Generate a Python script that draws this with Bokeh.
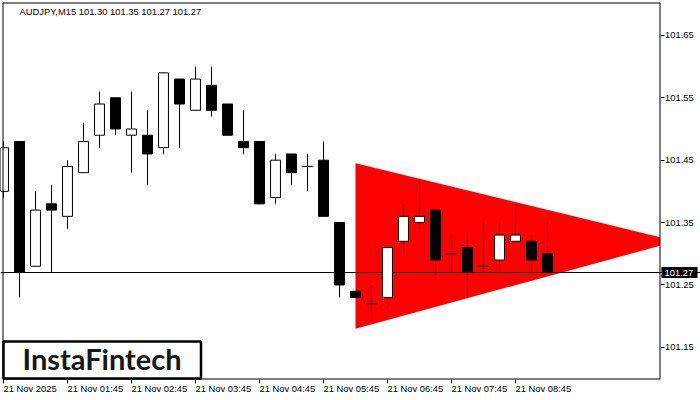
from bokeh.plotting import figure
from bokeh.models import (Range1d, FixedTicker, PrintfTickFormatter, Label,
                          LabelSet, BoxAnnotation, ColumnDataSource, LinearAxis)
from bokeh.core.properties import value
from bokeh.embed import file_html
from bokeh.resources import INLINE

# ---------------- data ----------------
chart_title = "AUDJPY,M15  101.30 101.35 101.27 101.27"
bar_index = list(range(35))
opens = [101.40, 101.48, 101.28, 101.38, 101.36, 101.43, 101.49, 101.55, 101.49, 101.49,
         101.47, 101.58, 101.53, 101.57, 101.54, 101.48, 101.48, 101.39, 101.46, 101.44,
         101.45, 101.35, 101.24, 101.22, 101.23, 101.32, 101.35, 101.37, 101.30, 101.31,
         101.28, 101.29, 101.32, 101.32, 101.30]
highs = [101.48, 101.48, 101.40, 101.41, 101.45, 101.51, 101.56, 101.55, 101.56, 101.53,
         101.59, 101.58, 101.60, 101.60, 101.54, 101.53, 101.48, 101.46, 101.46, 101.46,
         101.48, 101.35, 101.24, 101.25, 101.31, 101.38, 101.42, 101.37, 101.33, 101.34,
         101.35, 101.35, 101.38, 101.33, 101.35]
lows = [101.39, 101.23, 101.28, 101.27, 101.34, 101.43, 101.47, 101.49, 101.43, 101.41,
        101.46, 101.47, 101.53, 101.52, 101.49, 101.46, 101.38, 101.38, 101.41, 101.40,
        101.36, 101.23, 101.23, 101.19, 101.21, 101.30, 101.34, 101.26, 101.27, 101.23,
        101.27, 101.27, 101.32, 101.27, 101.27]
closes = [101.47, 101.27, 101.37, 101.37, 101.44, 101.48, 101.54, 101.50, 101.50, 101.46,
          101.59, 101.54, 101.58, 101.53, 101.49, 101.47, 101.38, 101.45, 101.43, 101.44,
          101.36, 101.25, 101.23, 101.22, 101.31, 101.36, 101.36, 101.29, 101.30, 101.27,
          101.28, 101.33, 101.33, 101.29, 101.27]
time_tick_index = [0, 4, 8, 12, 16, 20, 24, 28, 32]
time_tick_labels = ["21 Nov 2025", "21 Nov 01:45", "21 Nov 02:45", "21 Nov 03:45",
                    "21 Nov 04:45", "21 Nov 05:45", "21 Nov 06:45", "21 Nov 07:45",
                    "21 Nov 08:45"]
price_ticks = [101.15, 101.25, 101.35, 101.45, 101.55, 101.65]
last_price = 101.27
pattern_x = [22, 42.06, 22]
pattern_y = [101.445, 101.32, 101.18]
logo_text = "InstaFintech"

# ---------------- layout ----------------
W, H = 700, 400
BAR_PX = 16.0             # pixels per bar
PRICE_PX = 624.0          # pixels per 1.00 of price
X0 = -3 / BAR_PX          # data x at canvas left
Y1 = last_price + 272 / PRICE_PX   # data y at canvas top
X1 = X0 + W / BAR_PX
Y0 = Y1 - H / PRICE_PX
CHART_L, CHART_T, CHART_R, CHART_B = 2.5, 2.5, 659.5, 378.5


def px_x(px):
    return X0 + px / BAR_PX


def px_y(py):
    return Y1 - py / PRICE_PX


def clip_right(xs, ys, xmax):
    out_x, out_y = [], []
    n = len(xs)
    for k in range(n):
        xa, ya = xs[k], ys[k]
        xb, yb = xs[(k + 1) % n], ys[(k + 1) % n]
        a_in, b_in = xa <= xmax, xb <= xmax
        if a_in:
            out_x.append(xa)
            out_y.append(ya)
        if a_in != b_in:
            t = (xmax - xa) / (xb - xa)
            out_x.append(xmax)
            out_y.append(ya + t * (yb - ya))
    return out_x, out_y


p = figure(width=W, height=H, output_backend="svg", toolbar_location=None,
           x_range=Range1d(X0, X1), y_range=Range1d(Y0, Y1),
           x_axis_location=None, y_axis_location=None,
           min_border_left=0, min_border_top=0, min_border_right=0, min_border_bottom=0)
p.title.visible = False
p.background_fill_color = "white"
p.border_fill_color = "white"
p.outline_line_color = None
p.xgrid.visible = False
p.ygrid.visible = False

# right price axis, fixed at the chart's right edge
ya = LinearAxis(fixed_location=px_x(CHART_R), ticker=FixedTicker(ticks=price_ticks),
                formatter=PrintfTickFormatter(format="%.2f"))
ya.major_tick_in = 0
ya.major_tick_out = 4
ya.minor_tick_line_color = None
ya.major_label_standoff = 1
ya.axis_line_color = None
ya.major_tick_line_color = "black"
ya.major_label_text_font = "Liberation Sans"
ya.major_label_text_font_size = "9.4px"
ya.major_label_text_color = "black"
p.add_layout(ya, "right")

# bottom time axis (tick marks), labels are drawn left-aligned below
xa = LinearAxis(fixed_location=px_y(CHART_B), ticker=FixedTicker(ticks=time_tick_index))
xa.major_label_overrides = {t: "" for t in time_tick_index}
xa.major_tick_in = 0
xa.major_tick_out = 4
xa.minor_tick_line_color = None
xa.axis_line_color = None
xa.major_tick_line_color = "black"
p.add_layout(xa, "below")

# triangle pattern (clipped at the chart's right edge)
tx, ty = clip_right(pattern_x, pattern_y, px_x(CHART_R))
p.patch(tx, ty, fill_color="#FF0000", line_color=None)

# current price line (beneath candles)
p.hspan(y=[last_price], line_color="black", line_width=1)

# candles
body_src = ColumnDataSource(dict(
    x=[i for i, o, c in zip(bar_index, opens, closes) if o != c],
    top=[max(o, c) for o, c in zip(opens, closes) if o != c],
    bottom=[min(o, c) for o, c in zip(opens, closes) if o != c],
    color=["white" if c > o else "black" for o, c in zip(opens, closes) if o != c],
))
p.segment(x0=bar_index, y0=lows, x1=bar_index, y1=highs, line_color="black", line_width=1)
p.vbar(x="x", top="top", bottom="bottom", width=0.62, fill_color="color",
       line_color="black", line_width=1, source=body_src)
doji_x = [i for i, o, c in zip(bar_index, opens, closes) if o == c]
doji_y = [o for o, c in zip(opens, closes) if o == c]
p.segment(x0=[x - 0.35 for x in doji_x], y0=doji_y, x1=[x + 0.35 for x in doji_x],
          y1=doji_y, line_color="black", line_width=1)

# chart border
p.add_layout(BoxAnnotation(left=px_x(CHART_L), right=px_x(CHART_R), top=px_y(CHART_T),
                           bottom=px_y(CHART_B), fill_color=None, line_color="black",
                           line_alpha=1, line_width=1))

# time labels
lab_src = ColumnDataSource(dict(x=time_tick_index, y=[px_y(CHART_B)] * len(time_tick_index),
                                text=time_tick_labels))
p.add_layout(LabelSet(x="x", y="y", text="text", source=lab_src, text_align="left",
                      text_baseline="top", y_offset=-4, text_font=value("Liberation Sans"),
                      text_font_size="9.4px", text_color="black"))

# title
p.add_layout(Label(x=px_x(19), y=px_y(11), text=chart_title, text_align="left",
                   text_baseline="alphabetic", text_font="Liberation Sans",
                   text_font_size="9.4px", text_color="black"))

# current price tag
p.add_layout(BoxAnnotation(left=px_x(661), right=px_x(697), bottom=last_price - 5.5 / PRICE_PX,
                           top=last_price + 5.5 / PRICE_PX, fill_color="black", fill_alpha=1,
                           line_color=None))
p.add_layout(Label(x=px_x(664), y=last_price, text="%.2f" % last_price, text_align="left",
                   text_baseline="middle", text_font="Liberation Sans",
                   text_font_size="9.4px", text_color="white"))

# logo
p.add_layout(BoxAnnotation(left=px_x(3), right=px_x(200.5), bottom=px_y(378), top=px_y(341),
                           fill_color="white", fill_alpha=1, line_color="black",
                           line_alpha=1, line_width=2.5))
p.add_layout(Label(x=px_x(22), y=px_y(358), text=logo_text, text_align="left",
                   text_baseline="alphabetic", text_font="Lato", text_font_style="bold",
                   text_font_size="29px", text_color="#151515"))

open("out.html", "w").write(file_html(p, INLINE))
